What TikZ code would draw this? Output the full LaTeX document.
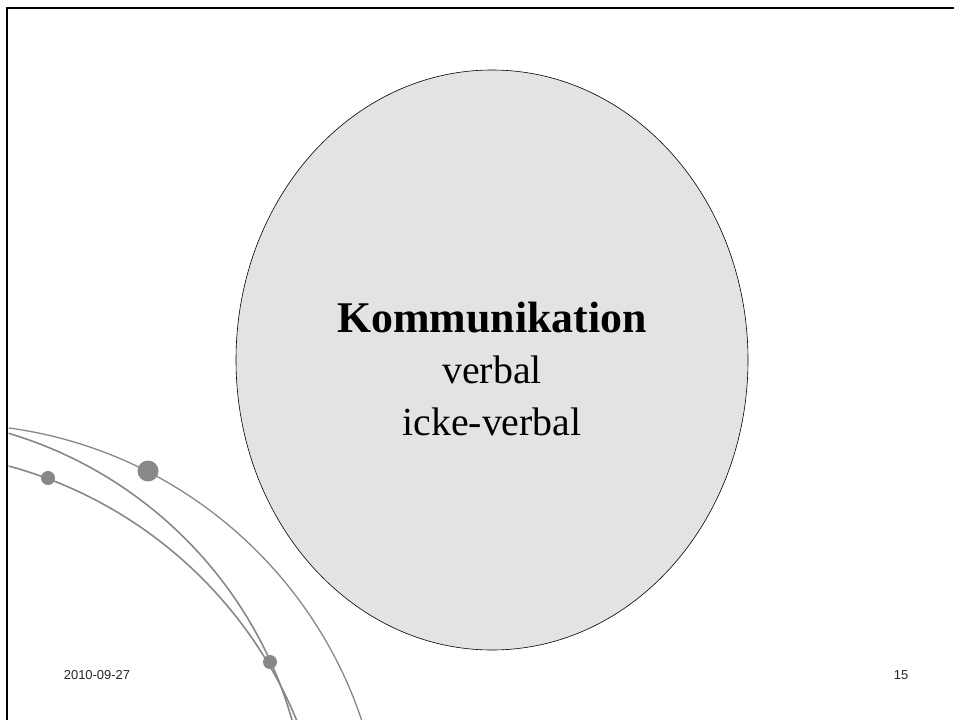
\documentclass[tikz,border=0pt]{standalone}
\usepackage{fontspec}
\setmainfont{Liberation Serif}
\newfontfamily\footfont{Liberation Sans}
\usetikzlibrary{shapes.geometric,positioning}

\definecolor{bubblegray}{RGB}{227,227,227}
\definecolor{orbitgray}{RGB}{136,136,136}

\begin{document}
\begin{tikzpicture}[x=1bp, y=-1bp,
            bubble/.style={ellipse, draw=black, line width=0.6bp, fill=bubblegray, minimum width=512bp, minimum height=580bp, inner sep=0pt},
            orbit/.style={draw=orbitgray, line width=1.6bp},
            dot/.style={circle, fill=orbitgray, inner sep=0pt, minimum size=14bp},
            footer/.style={font=\footfont\fontsize{13}{15}\selectfont, text=black!85}
        ]
            \useasboundingbox (0,0) rectangle (954,720);
            \fill[white] (0,0) rectangle (954,720);
            % slide frame
            \draw[line width=2.5bp] (7,720) -- (7,8) -- (954,8);

            % orbit lines
            \coordinate (orbitA) at (-50,858);
            \coordinate (orbitB) at (-111,835);
            \coordinate (orbitC) at (-105,885);
            \begin{scope}
                \clip (8.5,10) rectangle (954,720);
                \draw[orbit, line width=1.3bp] (orbitA) circle[radius=434bp];
                \draw[orbit] (orbitB) circle[radius=419bp];
                \draw[orbit] (orbitC) circle[radius=434bp];
            \end{scope}
            \node[dot, minimum size=21bp] (bigdot) at (148,471) {};
            \node[dot] (leftdot) at (48,478) {};
            \node[dot] (lowdot) at (270,662) {};

            \node[bubble] (comm) at (492,360) {};
            \node[anchor=base, font=\fontsize{44}{50}\selectfont\bfseries] (title) at (492,332) {Kommunikation};
            \node[anchor=base, font=\fontsize{40}{46}\selectfont] (verbal) at (492,383) {verbal};
            \node[anchor=base, font=\fontsize{40}{46}\selectfont] (nonverbal) at (492,435) {icke-verbal};

            \node[footer] (date) at (97,675) {2010-09-27};
            \node[footer] (page) at (901,675) {15};
        \end{tikzpicture}
\end{document}
